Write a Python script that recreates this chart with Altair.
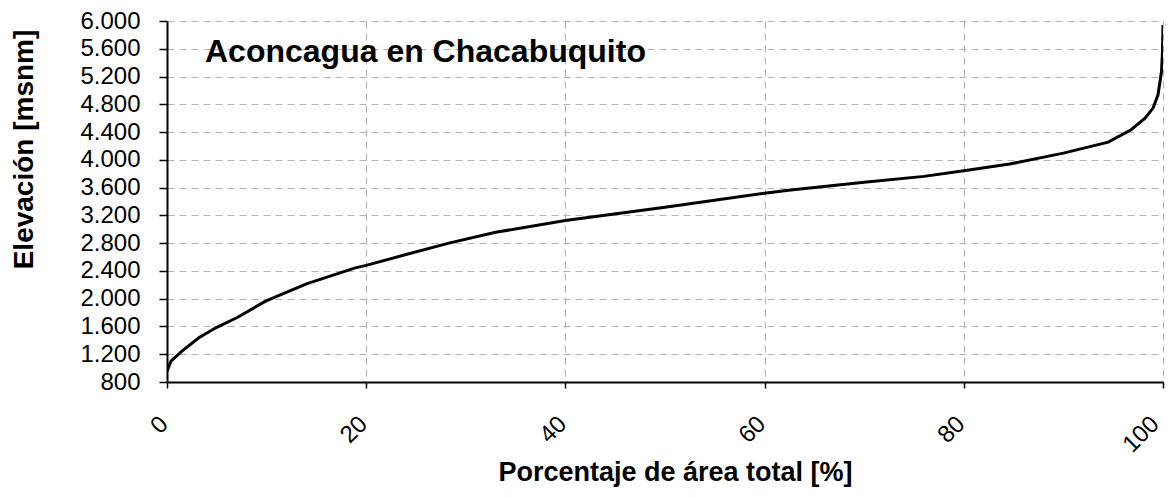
import altair as alt
import pandas as pd

pct = [0, 0.4, 1.5, 3.2, 4.9, 7, 9.9, 14, 18.9, 20, 24, 28.3, 33, 40, 50, 60, 62.4,
       70, 76, 80, 84.6, 90, 94.5, 96.8, 98.2, 99.0, 99.5, 99.85, 99.95, 100]
elev = [955, 1100, 1246, 1437, 1581, 1725, 1965, 2213, 2444, 2480, 2636, 2800, 2957,
        3125, 3317, 3520, 3561, 3676, 3762, 3844, 3939, 4097, 4255, 4434, 4601, 4745,
        4937, 5272, 5560, 5943]
y_ticks = [800, 1200, 1600, 2000, 2400, 2800, 3200, 3600, 4000, 4400, 4800, 5200, 5600, 6000]
x_ticks = [0, 20, 40, 60, 80, 100]
title_text = "Aconcagua en Chacabuquito"

df = pd.DataFrame({"pct": pct, "elev": elev})
FONT = "Liberation Sans"

line = alt.Chart(df).mark_line(color="black", strokeWidth=3, clip=True).encode(
    x=alt.X("pct:Q", scale=alt.Scale(domain=[0, 100], nice=False),
            axis=alt.Axis(values=x_ticks, title="Porcentaje de área total [%]",
                          labelAngle=-45, labelAlign="right", labelBaseline="middle",
                          labelPadding=32,
                          labelOffset={"condition": {"test": "datum.value >= 100", "value": -8},
                                       "value": -3},
                          tickSize=6,
                          titleBaseline="alphabetic", titleY=98, titleX=508)),
    y=alt.Y("elev:Q", scale=alt.Scale(domain=[800, 6000], nice=False, zero=False),
            axis=alt.Axis(values=y_ticks, title="Elevación [msnm]",
                          labelExpr="replace(format(datum.value, ','), ',', '.')",
                          labelPadding=19, tickSize=8,
                          titleAngle=-90, titleBaseline="alphabetic",
                          titleX=-135, titleY=128)),
)

label = alt.Chart(pd.DataFrame({"t": [title_text]})).mark_text(
    align="left", baseline="alphabetic", fontSize=32, fontWeight="bold",
    font=FONT, color="black"
).encode(x=alt.value(38), y=alt.value(41), text="t:N")

chart = alt.layer(line, label).properties(
    width=996, height=361,
    autosize=alt.AutoSizeParams(type="none"),
    padding={"left": 159, "top": 13, "right": 4, "bottom": 106},
).configure_view(stroke=None).configure_axis(
    labelFont=FONT, titleFont=FONT, labelFontSize=24, titleFontSize=27,
    labelColor="black", titleColor="black", titleFontWeight="bold",
    domainColor="black", domainWidth=2, tickColor="black", tickWidth=1.5,
    grid=True, gridColor="#b4b4b4", gridDash=[7, 5], gridWidth=1.2,
).configure_axisY(titleFontSize=28)

chart.save("out.html", embed_options={"renderer": "svg", "actions": False})
